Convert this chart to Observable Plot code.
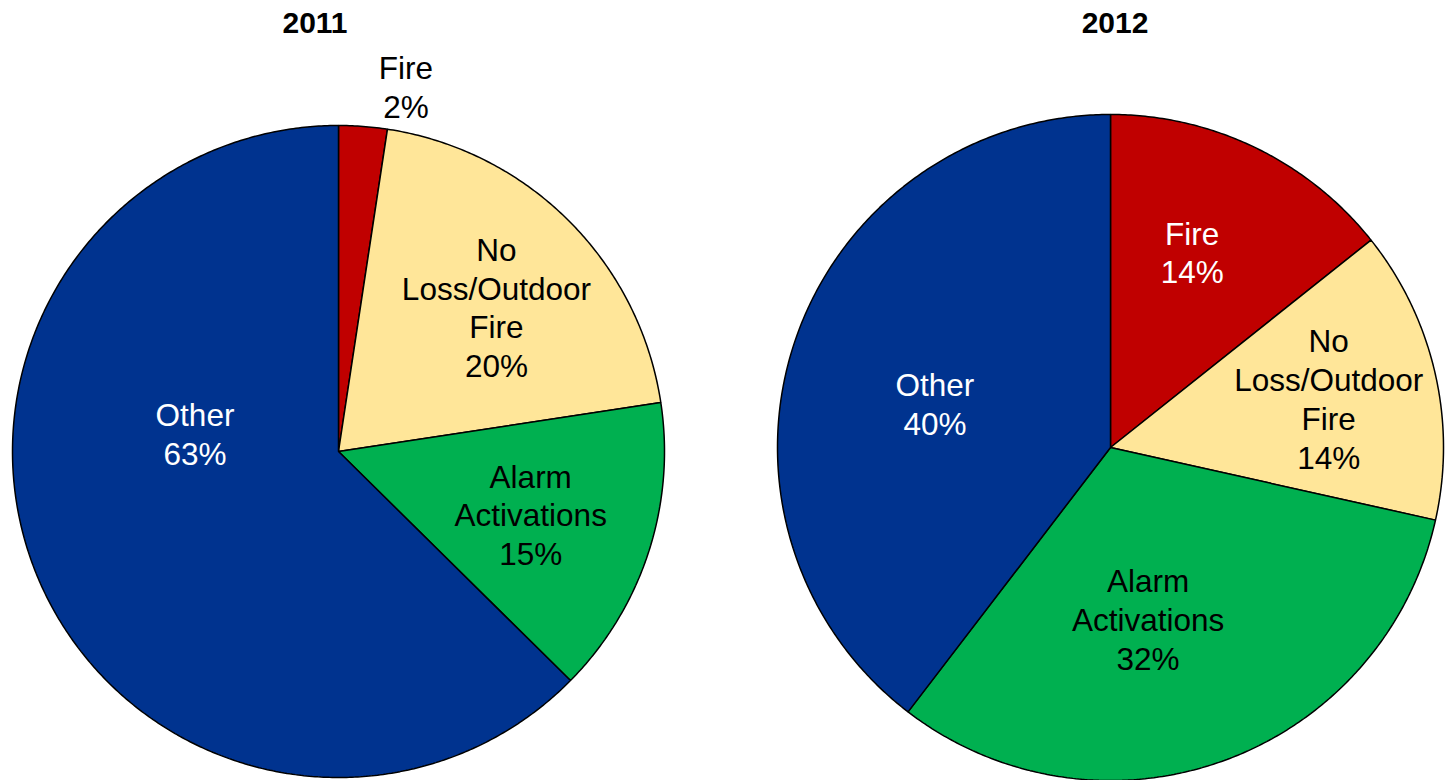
<!DOCTYPE html>
<html><head><meta charset="utf-8">
<script src="https://cdn.jsdelivr.net/npm/d3@7"></script>
<script src="https://cdn.jsdelivr.net/npm/@observablehq/plot@0.6"></script>
<style>
body{margin:0;background:#fff;}
#wrap{position:relative;width:1447px;height:780px;overflow:hidden;font-family:"Liberation Sans",Arial,sans-serif;}
.title{position:absolute;top:8px;width:200px;text-align:center;font-weight:bold;font-size:30px;line-height:30px;color:#000;}
.panel{position:absolute;top:0;}
</style></head><body>
<div id="wrap"></div>
<script>
// ---- data ----
const categories = ["Fire", "No Loss/Outdoor Fire", "Alarm Activations", "Other"];
const labelNames = ["Fire", "No\nLoss/Outdoor\nFire", "Alarm\nActivations", "Other"];
const years = ["2011", "2012"];
const shares2011 = [2.4, 20.2, 14.8, 62.6];
const shares2012 = [14.3, 14.2, 31.9, 39.6];

// ---- styles / layout ----
const sliceColors = ["#C00000", "#FFE699", "#00B050", "#00338F"];
const labelColors = ["#ffffff", "#000000", "#000000", "#ffffff"];
const panels = [
  {year: years[0], values: shares2011, left: 0, width: 723, cx: 338, cy: 451, r: 326, titleX: 315},
  {year: years[1], values: shares2012, left: 723, width: 724, cx: 387, cy: 447, r: 333, titleX: 1115}
];
// label nudges (pixel offsets, mimicking Excel best-fit placement)
const labelNudge = {
  "2011|Other": [43, -96], "2011|Fire": [40, -2], "2011|No Loss/Outdoor Fire": [15, -2],
  "2012|Fire": [-8, -10], "2012|No Loss/Outdoor Fire": [17, -3],
  "2012|Alarm Activations": [-33, -23], "2012|Other": [20, 22]
};
const H = 780;
const font = "Liberation Sans, Arial, sans-serif";

const wrap = document.getElementById("wrap");

for (const p of panels) {
  const total = d3.sum(p.values);
  let acc = 0;
  const slices = p.values.map((v, i) => {
    const a0 = acc / total * 2 * Math.PI;
    acc += v;
    const a1 = acc / total * 2 * Math.PI;
    const n = Math.max(2, Math.ceil((a1 - a0) / (Math.PI / 360)));
    const pts = [{x: 0, y: 0}];
    for (let k = 0; k <= n; k++) {
      const a = a0 + (a1 - a0) * k / n;
      pts.push({x: Math.sin(a), y: Math.cos(a)});
    }
    return {i, v, a0, a1, pts, share: v / total * 100};
  });

  const marks = slices.map(s => Plot.line(s.pts, {
    x: "x", y: "y", curve: "linear-closed",
    fill: sliceColors[s.i], stroke: "#000", strokeWidth: 1.5, strokeLinejoin: "miter"
  }));

  for (const s of slices) {
    const mid = (s.a0 + s.a1) / 2;
    const outside = s.share < 5;
    const rr = outside ? 1.117 : 0.62;
    const nudge = labelNudge[p.year + "|" + categories[s.i]] || [0, 0];
    marks.push(Plot.text([{
      x: rr * Math.sin(mid), y: rr * Math.cos(mid),
      t: labelNames[s.i] + "\n" + Math.round(s.share) + "%"
    }], {
      x: "x", y: "y", text: "t",
      fill: outside ? "#000" : labelColors[s.i],
      fontSize: 31.5, lineHeight: 1.23, fontFamily: font,
      textAnchor: "middle", dx: nudge[0], dy: nudge[1]
    }));
  }

  const chart = Plot.plot({
    width: p.width, height: H,
    marginLeft: p.cx - p.r, marginRight: p.width - p.cx - p.r,
    marginTop: p.cy - p.r, marginBottom: H - p.cy - p.r,
    x: {domain: [-1, 1], axis: null},
    y: {domain: [-1, 1], axis: null},
    style: {overflow: "visible", background: "transparent"},
    marks
  });
  const div = document.createElement("div");
  div.className = "panel";
  div.style.left = p.left + "px";
  div.appendChild(chart);
  wrap.appendChild(div);

  const t = document.createElement("div");
  t.className = "title";
  t.style.left = (p.titleX - 100) + "px";
  t.textContent = p.year;
  wrap.appendChild(t);
}
</script>
</body></html>
